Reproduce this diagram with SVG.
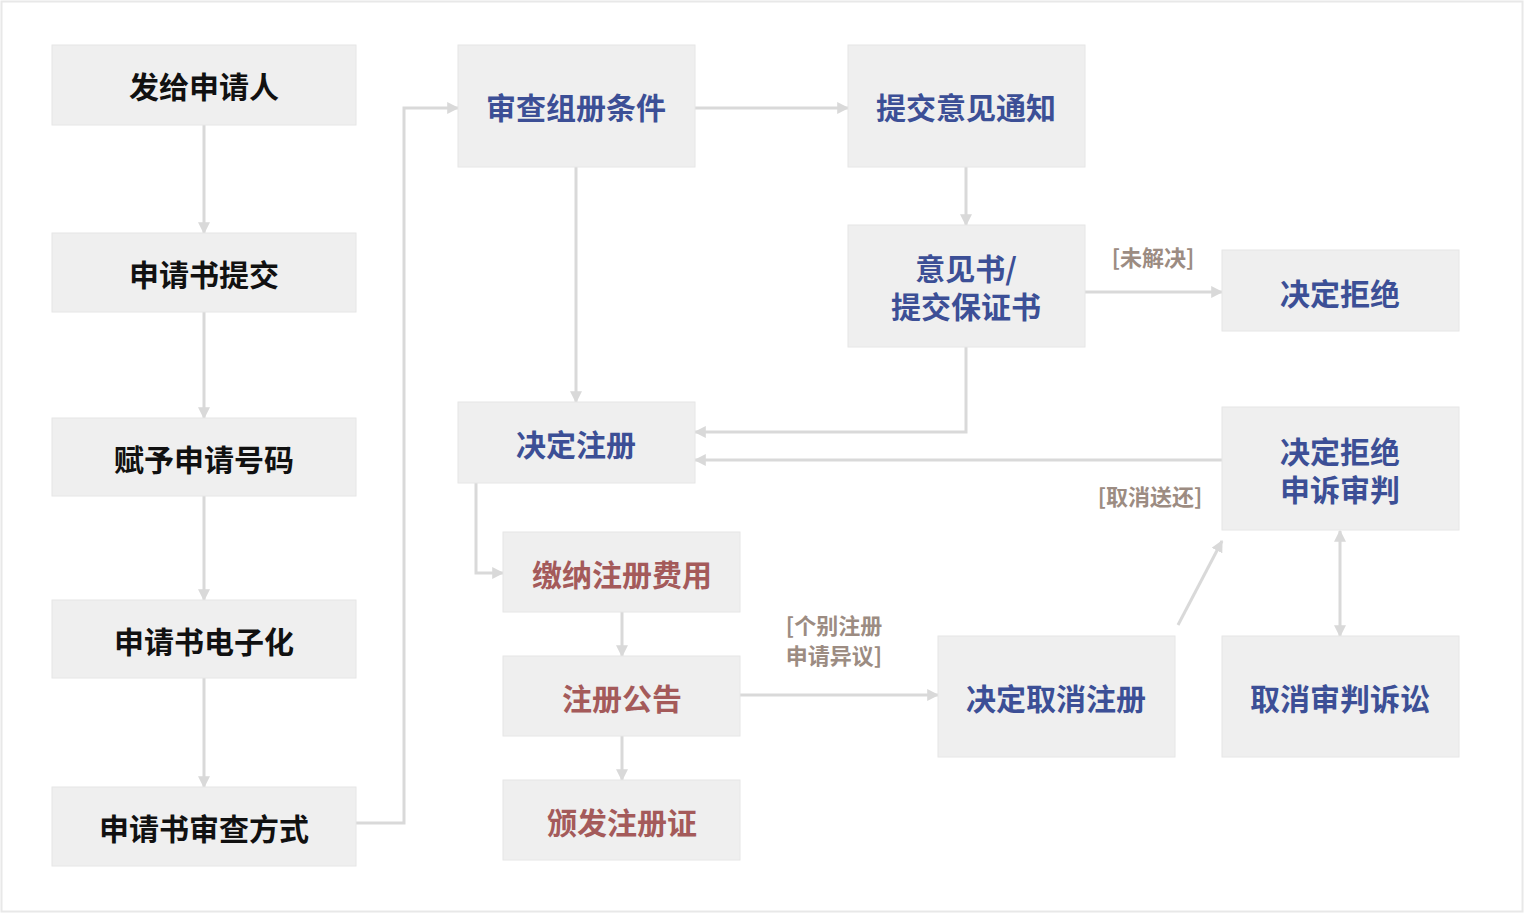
<svg xmlns="http://www.w3.org/2000/svg" width="1524" height="913" viewBox="0 0 1524 913">
<style>
.n{fill:#efefef;stroke:#e6e6e6;stroke-width:1}
.t{font-family:"Noto Sans CJK SC","Liberation Sans",sans-serif;font-weight:bold;font-size:30px;text-anchor:middle;dominant-baseline:central}
.k{fill:#111}.b{fill:#3c4f96}.r{fill:#a45a5a}
.c{fill:none;stroke:#d9d9d9;stroke-width:3}
.l{font-family:"Noto Sans CJK SC","Liberation Sans",sans-serif;font-weight:bold;font-size:22px;fill:#9c8c82;text-anchor:middle}
</style>
<defs>
<marker id="a" viewBox="0 0 10 10" refX="9" refY="5" markerWidth="4" markerHeight="4" orient="auto-start-reverse"><path d="M0,0L10,5L0,10z" fill="#d9d9d9"/></marker>
</defs>
<rect x="0" y="0" width="1524" height="913" fill="#fff"/>
<rect x="1.5" y="1.5" width="1521" height="910" fill="none" stroke="#e8e8e8" stroke-width="2"/>
<g id="connectors">
<path class="c" marker-end="url(#a)" d="M204,125V233"/>
<path class="c" marker-end="url(#a)" d="M204,312V418"/>
<path class="c" marker-end="url(#a)" d="M204,496V600"/>
<path class="c" marker-end="url(#a)" d="M204,678V787"/>
<path class="c" marker-end="url(#a)" d="M356,823H404V108H458"/>
<path class="c" marker-end="url(#a)" d="M695,108H848"/>
<path class="c" marker-end="url(#a)" d="M576,167V402"/>
<path class="c" marker-end="url(#a)" d="M966,167V225"/>
<path class="c" marker-end="url(#a)" d="M1085,292H1222"/>
<path class="c" marker-end="url(#a)" d="M966,347V432H695"/>
<path class="c" marker-end="url(#a)" d="M1222,460H695"/>
<path class="c" marker-end="url(#a)" d="M476,483V573H503"/>
<path class="c" marker-end="url(#a)" d="M622,612V656"/>
<path class="c" marker-end="url(#a)" d="M622,736V780"/>
<path class="c" marker-end="url(#a)" d="M740,695H938"/>
<path class="c" marker-end="url(#a)" d="M1178,625L1222,541"/>
<path class="c" marker-start="url(#a)" marker-end="url(#a)" d="M1340,531V636"/>
<text class="l" x="1153" y="266">[未解决]</text>
<text class="l" x="1150" y="505">[取消送还]</text>
<text class="l" x="834" y="634">[个别注册</text>
<text class="l" x="834" y="664">申请异议]</text>
</g>
<g id="n1"><rect class="n" x="52" y="45" width="304" height="80"/><text class="t k" x="204" y="85">发给申请人</text></g>
<g id="n2"><rect class="n" x="52" y="233" width="304" height="79"/><text class="t k" x="204" y="273">申请书提交</text></g>
<g id="n3"><rect class="n" x="52" y="418" width="304" height="78"/><text class="t k" x="204" y="458">赋予申请号码</text></g>
<g id="n4"><rect class="n" x="52" y="600" width="304" height="78"/><text class="t k" x="204" y="640">申请书电子化</text></g>
<g id="n5"><rect class="n" x="52" y="787" width="304" height="79"/><text class="t k" x="204" y="827">申请书审查方式</text></g>
<g id="n6"><rect class="n" x="458" y="45" width="237" height="122"/><text class="t b" x="576" y="106">审查组册条件</text></g>
<g id="n7"><rect class="n" x="848" y="45" width="237" height="122"/><text class="t b" x="966" y="106">提交意见通知</text></g>
<g id="n8"><rect class="n" x="848" y="225" width="237" height="122"/><text class="t b" x="966" y="267">意见书/</text><text class="t b" x="966" y="305">提交保证书</text></g>
<g id="n9"><rect class="n" x="1222" y="250" width="237" height="81"/><text class="t b" x="1340" y="292">决定拒绝</text></g>
<g id="n10"><rect class="n" x="458" y="402" width="237" height="81"/><text class="t b" x="576" y="443">决定注册</text></g>
<g id="n11"><rect class="n" x="1222" y="407" width="237" height="123"/><text class="t b" x="1340" y="450">决定拒绝</text><text class="t b" x="1340" y="488">申诉审判</text></g>
<g id="n12"><rect class="n" x="503" y="532" width="237" height="80"/><text class="t r" x="622" y="573">缴纳注册费用</text></g>
<g id="n13"><rect class="n" x="503" y="656" width="237" height="80"/><text class="t r" x="622" y="697">注册公告</text></g>
<g id="n14"><rect class="n" x="503" y="780" width="237" height="80"/><text class="t r" x="622" y="821">颁发注册证</text></g>
<g id="n15"><rect class="n" x="938" y="636" width="237" height="121"/><text class="t b" x="1056" y="697">决定取消注册</text></g>
<g id="n16"><rect class="n" x="1222" y="636" width="237" height="121"/><text class="t b" x="1340" y="697">取消审判诉讼</text></g>
</svg>
